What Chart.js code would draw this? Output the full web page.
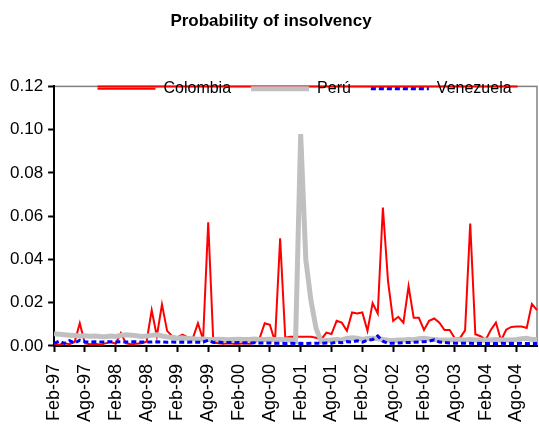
<!DOCTYPE html>
<html>
<head>
<meta charset="utf-8">
<script src="https://cdn.jsdelivr.net/npm/chart.js@4.4.0/dist/chart.umd.min.js"></script>
<style>
  html, body { margin: 0; padding: 0; background: #fff; }
</style>
</head>
<body>
<canvas id="insolvencyChart" width="539" height="428"></canvas>
<script>
// monthly categories, Feb-97 .. Dic-04
const months = [
  "Feb-97","Mar-97","Abr-97","May-97","Jun-97","Jul-97","Ago-97","Sep-97","Oct-97","Nov-97","Dic-97",
  "Ene-98","Feb-98","Mar-98","Abr-98","May-98","Jun-98","Jul-98","Ago-98","Sep-98","Oct-98","Nov-98","Dic-98",
  "Ene-99","Feb-99","Mar-99","Abr-99","May-99","Jun-99","Jul-99","Ago-99","Sep-99","Oct-99","Nov-99","Dic-99",
  "Ene-00","Feb-00","Mar-00","Abr-00","May-00","Jun-00","Jul-00","Ago-00","Sep-00","Oct-00","Nov-00","Dic-00",
  "Ene-01","Feb-01","Mar-01","Abr-01","May-01","Jun-01","Jul-01","Ago-01","Sep-01","Oct-01","Nov-01","Dic-01",
  "Ene-02","Feb-02","Mar-02","Abr-02","May-02","Jun-02","Jul-02","Ago-02","Sep-02","Oct-02","Nov-02","Dic-02",
  "Ene-03","Feb-03","Mar-03","Abr-03","May-03","Jun-03","Jul-03","Ago-03","Sep-03","Oct-03","Nov-03","Dic-03",
  "Ene-04","Feb-04","Mar-04","Abr-04","May-04","Jun-04","Jul-04","Ago-04","Sep-04","Oct-04","Nov-04","Dic-04"
];

const colombia = [
  0.0010, 0.0006, 0.0012, 0.0008, 0.0018, 0.0105, 0.0012, 0.0008, 0.0010, 0.0006,
  0.0012, 0.0018, 0.0010, 0.0060, 0.0012, 0.0008, 0.0010, 0.0012, 0.0020, 0.0166,
  0.0045, 0.0192, 0.0070, 0.0045, 0.0040, 0.0052, 0.0040, 0.0035, 0.0105, 0.0030,
  0.0572, 0.0015, 0.0012, 0.0010, 0.0012, 0.0010, 0.0010, 0.0012, 0.0010, 0.0015,
  0.0035, 0.0105, 0.0098, 0.0020, 0.0498, 0.0038, 0.0042, 0.0042, 0.0042, 0.0042,
  0.0042, 0.0038, 0.0030, 0.0062, 0.0055, 0.0116, 0.0108, 0.0070, 0.0155, 0.0150,
  0.0155, 0.0070, 0.0198, 0.0150, 0.0640, 0.0300, 0.0116, 0.0135, 0.0108, 0.0276,
  0.0130, 0.0130, 0.0074, 0.0116, 0.0127, 0.0108, 0.0074, 0.0074, 0.0036, 0.0036,
  0.0072, 0.0566, 0.0054, 0.0045, 0.0028, 0.0074, 0.0108, 0.0025, 0.0075, 0.0088,
  0.0090, 0.0090, 0.0083, 0.0194, 0.0166
];

const peru = [
  0.0056, 0.0054, 0.0052, 0.0050, 0.0048, 0.0046, 0.0047, 0.0045, 0.0046, 0.0044,
  0.0043, 0.0046, 0.0044, 0.0049, 0.0052, 0.0050, 0.0047, 0.0044, 0.0046, 0.0049,
  0.0052, 0.0046, 0.0042, 0.0039, 0.0036, 0.0038, 0.0034, 0.0033, 0.0031, 0.0032,
  0.0030, 0.0030, 0.0031, 0.0030, 0.0029, 0.0030, 0.0031, 0.0030, 0.0030, 0.0032,
  0.0030, 0.0030, 0.0031, 0.0030, 0.0030, 0.0029, 0.0028, 0.0022, 0.0980, 0.0400,
  0.0210, 0.0080, 0.0022, 0.0025, 0.0028, 0.0030, 0.0028, 0.0035, 0.0038, 0.0036,
  0.0030, 0.0034, 0.0036, 0.0033, 0.0030, 0.0026, 0.0025, 0.0027, 0.0028, 0.0030,
  0.0029, 0.0033, 0.0035, 0.0032, 0.0030, 0.0028, 0.0027, 0.0028, 0.0030, 0.0029,
  0.0028, 0.0030, 0.0028, 0.0027, 0.0026, 0.0028, 0.0030, 0.0028, 0.0027, 0.0028,
  0.0030, 0.0033, 0.0035, 0.0030, 0.0030
];

const venezuela = [
  0.0012, 0.0022, 0.0012, 0.0024, 0.0014, 0.0026, 0.0020, 0.0018, 0.0019, 0.0018,
  0.0019, 0.0020, 0.0018, 0.0019, 0.0018, 0.0020, 0.0019, 0.0018, 0.0019, 0.0018,
  0.0019, 0.0018, 0.0017, 0.0018, 0.0017, 0.0018, 0.0017, 0.0018, 0.0017, 0.0018,
  0.0026, 0.0016, 0.0018, 0.0015, 0.0016, 0.0015, 0.0016, 0.0015, 0.0014, 0.0015,
  0.0014, 0.0013, 0.0014, 0.0012, 0.0013, 0.0011, 0.0012, 0.0011, 0.0012, 0.0011,
  0.0012, 0.0013, 0.0012, 0.0014, 0.0013, 0.0018, 0.0015, 0.0020, 0.0018, 0.0024,
  0.0018, 0.0026, 0.0030, 0.0046, 0.0022, 0.0012, 0.0013, 0.0014, 0.0015, 0.0016,
  0.0017, 0.0018, 0.0020, 0.0022, 0.0028, 0.0018, 0.0016, 0.0014, 0.0013, 0.0012,
  0.0013, 0.0012, 0.0011, 0.0012, 0.0011, 0.0012, 0.0011, 0.0012, 0.0011, 0.0012,
  0.0011, 0.0012, 0.0011, 0.0012, 0.0011
];

const yMin = 0, yMax = 0.12, yStep = 0.02;
const labelEvery = 6;

const legendFontSize = 16;
const legendPad = 20;
const legendShift = 18;

Chart.defaults.font.family = "'Liberation Sans', Arial, sans-serif";
Chart.defaults.color = "#000";

// legend sits on the top edge of the plot, as in the original,
// with the red rule running under it; plot frame in grey
const frameLines = {
  id: "frameLines",
  beforeLayout(chart) {
    const lg = chart.legend;
    if (lg && !lg._patched) {
      const baseFit = Object.getPrototypeOf(lg).fit;
      lg.fit = function () {
        baseFit.call(this);
        this._fullHeight = this.height;
        this.height = 0;
      };
      lg._patched = true;
    }
  },
  afterLayout(chart) {
    const lg = chart.legend, ca = chart.chartArea;
    lg.left = ca.left + legendShift;
    lg.right = ca.right;
    lg.width = lg.right - lg.left;
    lg.height = lg._fullHeight;
    lg.top = ca.top + 4 - legendPad - legendFontSize * 0.6;
    lg.bottom = lg.top + lg.height;
  },
  beforeDraw(chart) {
    const ctx = chart.ctx, ca = chart.chartArea;
    ctx.save();
    ctx.strokeStyle = "#808080";
    ctx.lineWidth = 1.5;
    ctx.strokeRect(ca.left, ca.top, ca.right - ca.left, ca.bottom - ca.top);
    const boxes = chart.legend.legendHitBoxes;
    if (boxes && boxes.length) {
      const last = boxes[boxes.length - 1];
      ctx.strokeStyle = "#ff0000";
      ctx.lineWidth = 2;
      ctx.beginPath();
      ctx.moveTo(boxes[0].left, ca.top);
      ctx.lineTo(last.left + last.width + 6, ca.top);
      ctx.stroke();
    }
    ctx.restore();
  }
};

new Chart(document.getElementById("insolvencyChart"), {
  type: "line",
  data: {
    labels: months,
    datasets: [
      {
        label: "Colombia",
        data: colombia,
        borderColor: "#ff0000",
        backgroundColor: "#ff0000",
        borderWidth: 2,
        pointRadius: 0,
        order: 3
      },
      {
        label: "Perú",
        data: peru,
        borderColor: "#c0c0c0",
        backgroundColor: "#c0c0c0",
        borderWidth: 5,
        pointRadius: 0,
        order: 2
      },
      {
        label: "Venezuela",
        data: venezuela,
        borderColor: "#0000ff",
        backgroundColor: "#0000ff",
        borderWidth: 3,
        borderDash: [5, 3],
        pointRadius: 0,
        order: 1
      }
    ]
  },
  options: {
    responsive: false,
    animation: false,
    events: [],
    layout: {
      padding: { left: 5, right: 2, top: 0, bottom: -6 }
    },
    plugins: {
      title: {
        display: true,
        text: "Probability of insolvency",
        font: { size: 17, weight: "bold" },
        color: "#000",
        padding: { top: 11, bottom: 55 }
      },
      legend: {
        display: true,
        position: "top",
        labels: {
          usePointStyle: true,
          pointStyle: "line",
          pointStyleWidth: 58,
          padding: legendPad,
          color: "#000",
          font: { size: legendFontSize },
          generateLabels(chart) {
            const items = Chart.defaults.plugins.legend.labels.generateLabels(chart);
            items.forEach((item) => {
              const ds = chart.data.datasets[item.datasetIndex];
              item.strokeStyle = ds.borderColor;
              item.lineWidth = ds.borderWidth;
              item.lineDash = ds.borderDash || [];
            });
            return items.sort((a, b) => a.datasetIndex - b.datasetIndex);
          }
        }
      },
      tooltip: { enabled: false }
    },
    scales: {
      x: {
        type: "category",
        offset: false,
        border: { color: "#000", width: 2 },
        grid: {
          offset: false,
          drawOnChartArea: false,
          drawTicks: true,
          tickLength: 6,
          tickWidth: 2,
          tickColor: "#000"
        },
        ticks: {
          autoSkip: false,
          maxRotation: 90,
          minRotation: 90,
          padding: 12,
          font: { size: 18 },
          callback: (value, index) => (index % labelEvery === 0 ? months[index] : null)
        },
        afterFit(scale) {
          // the last month has no label, so no room is needed on the right
          scale.paddingRight = 0;
        }
      },
      y: {
        min: yMin,
        max: yMax,
        border: { color: "#000", width: 2 },
        grid: {
          drawOnChartArea: false,
          drawTicks: true,
          tickLength: 6,
          tickWidth: 2,
          tickColor: "#000"
        },
        ticks: {
          stepSize: yStep,
          padding: 5,
          font: { size: 17 },
          callback: (v) => v.toFixed(2)
        }
      }
    }
  },
  plugins: [frameLines]
});
</script>
</body>
</html>
